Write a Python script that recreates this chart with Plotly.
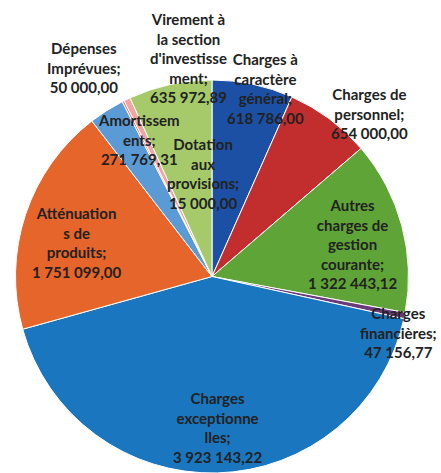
import plotly.graph_objects as go

W, H = 441, 473

# ---- data ----
categories = [
    "Charges à caractère général",
    "Charges de personnel",
    "Autres charges de gestion courante",
    "Charges financières",
    "Charges exceptionnelles",
    "Atténuations de produits",
    "Amortissements",
    "Dotation aux provisions",
    "Dépenses imprévues",
    "Virement à la section d'investissement",
]
values = [618786.00, 654000.00, 1322443.12, 47156.77, 3923143.22,
          1751099.00, 271769.31, 15000.00, 50000.00, 635972.89]
label_texts = [
    "Charges à<br>caractère<br>général;<br>618 786,00",
    "Charges de<br>personnel;<br>654 000,00",
    "Autres<br>charges de<br>gestion<br>courante;<br>1 322 443,12",
    "Charges<br>financières;<br>47 156,77",
    "Charges<br>exceptionne<br>lles;<br>3 923 143,22",
    "Atténuation<br>s de<br>produits;<br>1 751 099,00",
    "Amortissem<br>ents;<br>271 769,31",
    "Dotation<br>aux<br>provisions;<br>15 000,00",
    "Dépenses<br>Imprévues;<br>50 000,00",
    "Virement à<br>la section<br>d'investisse<br>ment;<br>635 972,89",
]

# ---- styling ----
colors = ["#1B50A4", "#C22E2E", "#5FA436", "#6B3A7A", "#1A76BE",
          "#E6652A", "#5B9BD5", "#E46C6A", "#F2A6A2", "#A6CA6A"]
# label centres in pixels (x, y of text block centre)
label_pos = [(265, 88), (369, 113), (352, 244), (398, 332), (217, 427),
             (76, 242), (139, 139), (203, 174), (84, 68), (188, 58)]

fig = go.Figure(go.Pie(
    labels=categories,
    values=values,
    sort=False,
    direction="clockwise",
    rotation=0,
    textinfo="none",
    hoverinfo="label+value",
    marker=dict(colors=colors, line=dict(color="white", width=1)),
    domain=dict(x=[13 / W, 411 / W], y=[0, 1 - 80 / H]),
    showlegend=False,
))

for txt, (px, py) in zip(label_texts, label_pos):
    fig.add_annotation(
        x=px / W, y=1 - py / H, xref="paper", yref="paper",
        text="<b>" + txt + "</b>", showarrow=False,
        xanchor="center", yanchor="middle", align="center",
        font=dict(family="Lato, Liberation Sans, sans-serif", size=15, color="#222222"),
    )

fig.update_layout(
    width=W, height=H,
    margin=dict(l=0, r=0, t=0, b=0),
    paper_bgcolor="white", plot_bgcolor="white",
)

fig.write_html(
    "out.html",
    config={"displayModeBar": False},
    post_script="document.body.style.margin='0';document.body.style.overflow='hidden';",
)
